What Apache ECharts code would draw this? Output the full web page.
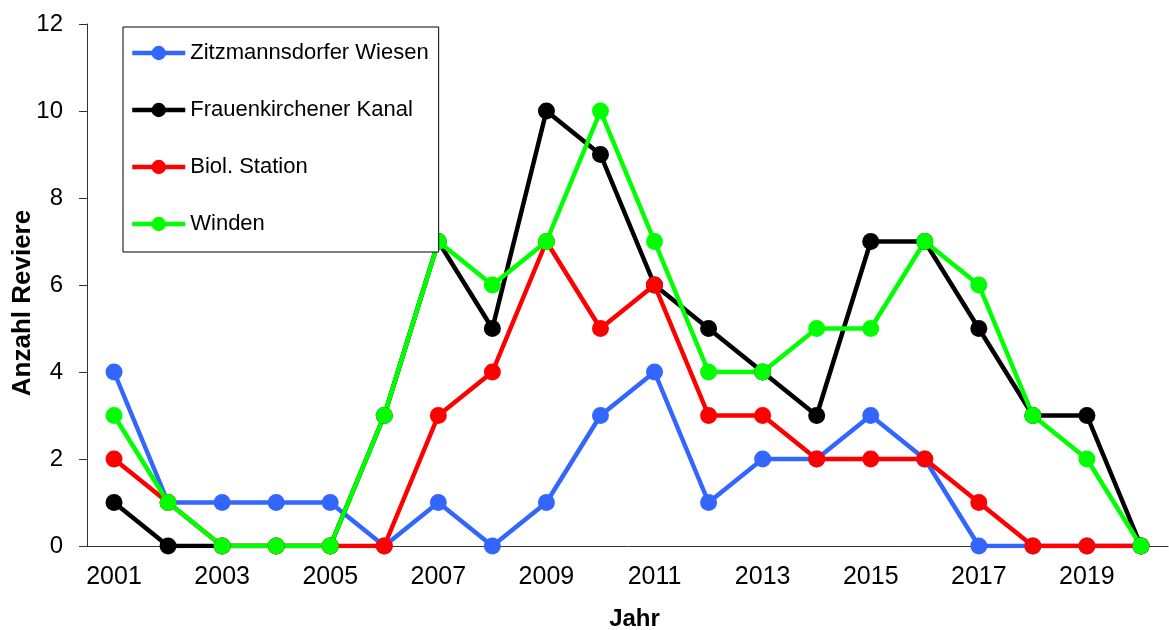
<!DOCTYPE html>
<html lang="de">
<head>
    <meta charset="UTF-8">
    <title>Anzahl Reviere</title>
    <script src="https://cdn.jsdelivr.net/npm/echarts@6/dist/echarts.min.js"></script>
    <style>
        *{
            margin: 0;
            padding: 0;
        }
        html,body{
            width: 100%;
            height: 100%;
            overflow: hidden;
            background: #fff;
        }
        .container{
            width: 1169px;
            height: 630px;
        }
    </style>
</head>
<body>
<div class="container"></div>
<script>
    let years=['2001','2002','2003','2004','2005','2006','2007','2008','2009','2010',
        '2011','2012','2013','2014','2015','2016','2017','2018','2019','2020']
    let seriesNames=['Zitzmannsdorfer Wiesen','Frauenkirchener Kanal','Biol. Station','Winden']
    let zitzmannsdorf=[4,1,1,1,1,0,1,0,1,3,4,1,2,2,3,2,0,0,0,0]
    let frauenkirchen=[1,0,0,0,0,3,7,5,10,9,6,5,4,3,7,7,5,3,3,0]
    let biolStation=[2,1,0,0,0,0,3,4,7,5,6,3,3,2,2,2,1,0,0,0]
    let winden=[3,1,0,0,0,3,7,6,7,10,7,4,4,5,5,7,6,3,2,0]
    let colors=['#3366ff','#000000','#ff0000','#00ff00']

    window.onload=function () {
        let container=document.querySelector('.container')
        let mycharts=echarts.init(container)
        let font='"Liberation Sans", Arial, sans-serif'

        let values=[zitzmannsdorf,frauenkirchen,biolStation,winden]
        let series=seriesNames.map((name,i)=>({
            name:name,
            type:'line',
            data:values[i],
            symbol:'circle',
            symbolSize:17,
            showAllSymbol:true,
            animation:false,
            lineStyle:{width:4.5,color:colors[i]},
            itemStyle:{color:colors[i]}
        }))

        let options={
            backgroundColor:'#fff',
            grid:{left:87,right:1,top:24,bottom:84,containLabel:false,outerBoundsMode:'none'},
            legend:{
                orient:'vertical',
                left:123,
                top:27,
                padding:[15,10,17,7],
                itemWidth:53,
                itemHeight:18,
                itemGap:35,
                backgroundColor:'#fff',
                borderColor:'#000',
                borderWidth:1,
                borderRadius:0,
                lineStyle:{width:4.5},
                textStyle:{fontFamily:font,fontSize:22,color:'#000',lineHeight:22},
                data:seriesNames
            },
            xAxis:{
                type:'category',
                data:years,
                boundaryGap:true,
                name:'Jahr',
                nameLocation:'middle',
                nameGap:61,
                nameMoveOverlap:false,
                nameTextStyle:{fontFamily:font,fontSize:24,fontWeight:'bold',color:'#000',padding:[0,0,0,14]},
                axisLine:{lineStyle:{color:'#333',width:1}},
                axisTick:{interval:0,length:7,lineStyle:{color:'#333'}},
                axisLabel:{interval:1,fontFamily:font,fontSize:25,color:'#000',margin:19},
                splitLine:{show:false}
            },
            yAxis:{
                type:'value',
                min:0,
                max:12,
                interval:2,
                name:'Anzahl Reviere',
                nameLocation:'middle',
                nameGap:51,
                nameMoveOverlap:false,
                nameTextStyle:{fontFamily:font,fontSize:26,fontWeight:'bold',color:'#000',padding:[0,36,0,0]},
                axisLine:{show:true,lineStyle:{color:'#333',width:1}},
                axisTick:{show:true,length:8,lineStyle:{color:'#333'}},
                axisLabel:{fontFamily:font,fontSize:24,color:'#000',margin:24},
                splitLine:{show:false}
            },
            series
        }

        mycharts.setOption(options)
    }
</script>
</body>
</html>
